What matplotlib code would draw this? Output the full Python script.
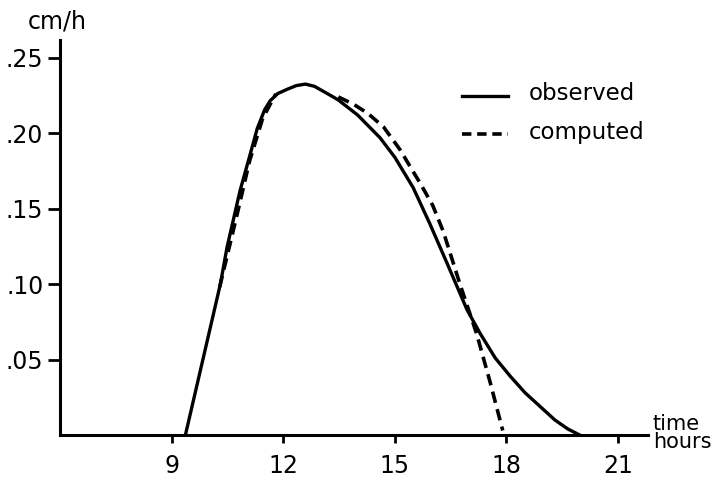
import matplotlib
matplotlib.use("Agg")
import matplotlib.pyplot as plt

# observed flow (hours, cm/h)
obs_t = [9.37, 9.84, 10.31, 10.49, 10.84, 11.1, 11.3, 11.5, 11.65, 11.85, 12.1,
         12.35, 12.6, 12.84, 13.2, 13.48, 14.0, 14.6, 15.0, 15.49, 15.94, 16.4,
         16.94, 17.3, 17.7, 18.1, 18.5, 18.9, 19.3, 19.65, 19.97]
obs_v = [0.0, 0.05, 0.10, 0.1245, 0.162, 0.185, 0.203, 0.2155, 0.2215, 0.2262, 0.229,
         0.2315, 0.2325, 0.231, 0.226, 0.222, 0.212, 0.197, 0.184, 0.164, 0.140, 0.114,
         0.083, 0.067, 0.051, 0.039, 0.028, 0.019, 0.010, 0.004, 0.0]

# computed flow, rising and falling parts
comp_rise_t = [10.29, 10.72, 11.1, 11.45, 11.8]
comp_rise_v = [0.098, 0.142, 0.182, 0.21, 0.226]
comp_fall_t = [13.48, 13.9, 14.28, 14.7, 15.14, 15.7, 16.02, 16.3, 16.75, 17.2,
               17.55, 17.9]
comp_fall_v = [0.224, 0.219, 0.213, 0.204, 0.189, 0.166, 0.152, 0.135, 0.10, 0.067,
               0.036, 0.003]

xticks = [9, 12, 15, 18, 21]
yticks = [0.05, 0.10, 0.15, 0.20, 0.25]
ylabels = [".05", ".10", ".15", ".20", ".25"]

DASH = (3.2, 1.8)

fig = plt.figure(figsize=(7.19, 4.84), dpi=100)
ax = fig.add_axes([0.0835, 0.1012, 0.8175, 0.8158])

ax.plot(obs_t, obs_v, color='black', lw=2.4, solid_joinstyle='round')
ax.plot(comp_rise_t, comp_rise_v, color='black', lw=2.6, dashes=DASH)
ax.plot(comp_fall_t, comp_fall_v, color='black', lw=2.6, dashes=DASH)

ax.set_xlim(6.0, 21.8)
ax.set_ylim(0, 0.2616)

for s in ['top', 'right']:
    ax.spines[s].set_visible(False)
for s in ['left', 'bottom']:
    ax.spines[s].set_linewidth(2.2)

ax.set_xticks(xticks)
ax.set_xticklabels([str(t) for t in xticks])
ax.set_yticks(yticks)
ax.set_yticklabels(ylabels)
ax.tick_params(axis='y', direction='out', length=9, width=2, labelsize=17, pad=3)
ax.tick_params(axis='x', direction='out', length=6, width=2, labelsize=17, pad=8)

# legend drawn by hand
ax.plot([16.8, 18.05], [0.2244, 0.2244], color='black', lw=2.4)
ax.plot([16.8, 18.05], [0.1993, 0.1993], color='black', lw=2.6, dashes=(2.6, 1.6))
ax.text(18.6, 0.2264, "observed", fontsize=16.5, va='center', ha='left')
ax.text(18.6, 0.2006, "computed", fontsize=16.5, va='center', ha='left')

fig.text(0.038, 0.955, "cm/h", fontsize=17, ha='left', va='center')
fig.text(0.908, 0.105, "time\nhours", fontsize=15, ha='left', va='center', linespacing=0.85)

fig.savefig("out.png", dpi=100)
